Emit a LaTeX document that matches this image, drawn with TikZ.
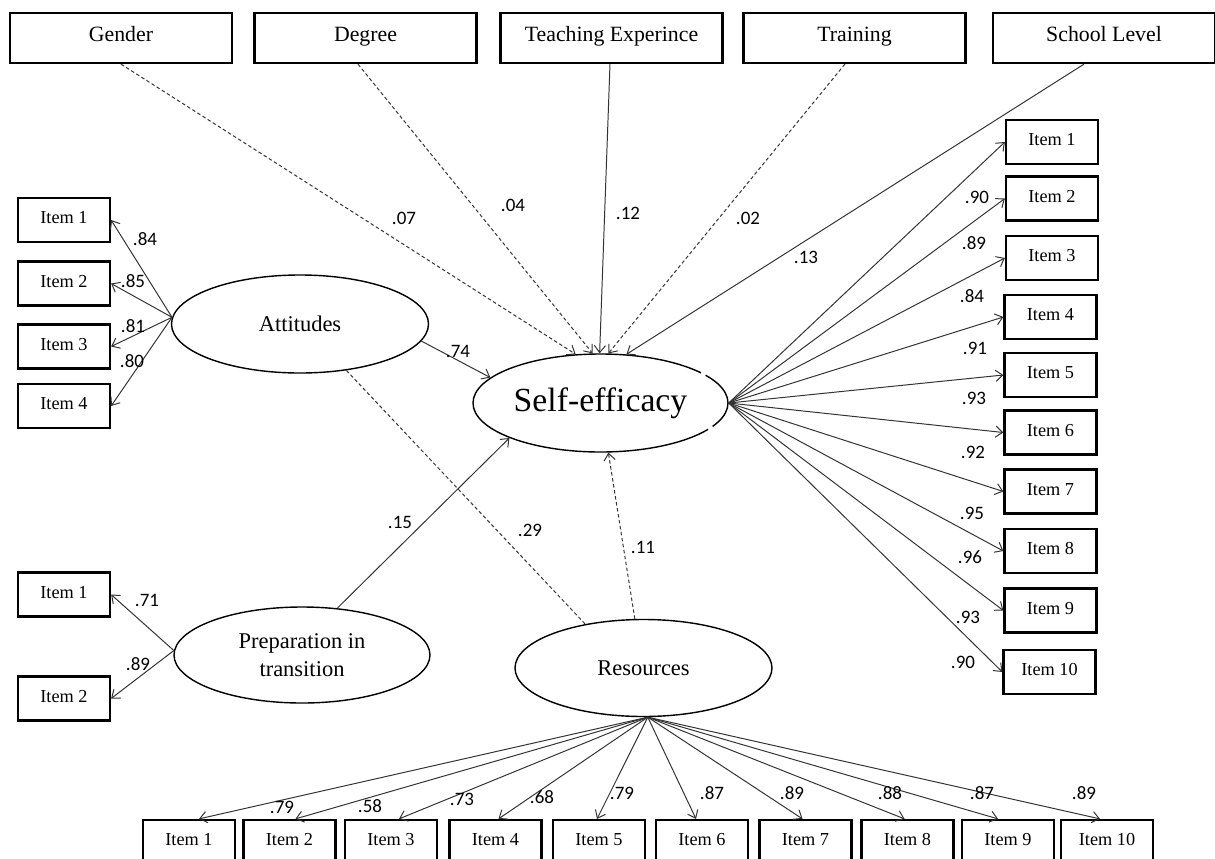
\documentclass[tikz,border=0pt]{standalone}
\usepackage{fontspec}
\setmainfont{Liberation Serif}
\newfontfamily\numfont{Carlito}
\usetikzlibrary{shapes.geometric,arrows.meta}
\begin{document}
\begin{tikzpicture}[x=0.25mm,y=-0.25mm,
 box/.style={draw=black,line width=1.6pt,rectangle,inner sep=0pt,font=\fontsize{13}{15}\selectfont},
 topbox/.style={box,minimum width=55.5mm,minimum height=12.5mm,text height=0.7em,text depth=0.25em,font=\fontsize{15.5}{18}\selectfont},
 itembox/.style={box,minimum width=23mm,minimum height=11mm,text height=0.72em,text depth=0.2em},
 latent/.style={draw=black,line width=1pt,ellipse,inner sep=0pt,align=center,font=\fontsize{16}{20}\selectfont},
 conn/.style={draw=black!80,line width=0.7pt},
 arr/.style={conn,-{Straight Barb[length=5pt,width=8pt]}},
 dsh/.style={dash pattern=on 2.5pt off 1.8pt},
 coef/.style={font=\numfont\fontsize{13.5}{15}\selectfont,inner sep=0pt}
]
\useasboundingbox[fill=white] (0,0) rectangle (1215,859);

% top boxes
\node[topbox] (gender) at (121,38) {Gender};
\node[topbox] (degree) at (365.5,38) {Degree};
\node[topbox] (teach) at (611.5,38) {Teaching Experince};
\node[topbox] (train) at (854.5,38) {Training};
\node[topbox] (school) at (1104,38) {School Level};

% latent variables
\node[latent,minimum width=63.75mm,minimum height=24.5mm,font=\fontsize{24}{28}\selectfont] (se) at (600.5,403) {Self-efficacy};
\node[latent,minimum width=64.25mm,minimum height=24.5mm] (att) at (300,324) {Attitudes};
\node[latent,minimum width=64mm,minimum height=24mm] (prep) at (302,655) {Preparation in\\transition};
\node[latent,minimum width=64.25mm,minimum height=24.25mm] (res) at (643.5,668) {Resources};
% small breaks in the self-efficacy outline
\fill[white] (se.16) circle (0.7mm);
\fill[white] (se.-13) circle (0.7mm);

% left items (attitudes)
\node[itembox] (l1) at (64,220) {Item 1};
\node[itembox] (l2) at (64,283.5) {Item 2};
\node[itembox] (l3) at (64,346.5) {Item 3};
\node[itembox] (l4) at (64,406) {Item 4};
% preparation items
\node[itembox] (p1) at (64,594.5) {Item 1};
\node[itembox] (p2) at (64,698.5) {Item 2};

% right items
\node[itembox] (r1) at (1052,142) {Item 1};
\node[itembox] (r2) at (1052,198.5) {Item 2};
\node[itembox] (r3) at (1052,258) {Item 3};
\node[itembox] (r4) at (1050.5,317) {Item 4};
\node[itembox] (r5) at (1050.5,375) {Item 5};
\node[itembox] (r6) at (1050.5,432.5) {Item 6};
\node[itembox] (r7) at (1050.5,491.5) {Item 7};
\node[itembox] (r8) at (1050.5,551) {Item 8};
\node[itembox] (r9) at (1050.5,610.5) {Item 9};
\node[itembox] (r10) at (1049.5,672) {Item 10};

% bottom items
\node[itembox] (b1) at (189,842) {Item 1};
\node[itembox] (b2) at (289.5,842) {Item 2};
\node[itembox] (b3) at (391,842) {Item 3};
\node[itembox] (b4) at (495.5,842) {Item 4};
\node[itembox] (b5) at (599,842) {Item 5};
\node[itembox] (b6) at (702,842) {Item 6};
\node[itembox] (b7) at (805.5,842) {Item 7};
\node[itembox] (b8) at (907.5,842) {Item 8};
\node[itembox] (b9) at (1008,842) {Item 9};
\node[itembox] (b10) at (1107,842) {Item 10};

% covariates to self-efficacy
\draw[arr,dsh] (gender.south) -- (se.117);
\draw[arr,dsh] ([xshift=-1.875mm]degree.south) -- (se.99);
\draw[arr] ([xshift=-0.375mm]teach.south) -- (se.91);
\draw[arr,dsh] ([xshift=-2.4mm]train.south) -- (se.81);
\draw[arr] ([xshift=-5mm]school.south) -- (se.62);

% structural paths
\draw[arr] (att.-8) -- (se.167);
\draw[arr] (prep.53) -- (se.201);
\draw[conn,dsh] (att.-45) -- (res.143);
\draw[arr,dsh] (res.100) -- (se.-81);

% attitudes items
\foreach \i in {l1,l2,l3,l4} \draw[arr] (att.177) -- (\i.east);
% preparation items
\foreach \i in {p1,p2} \draw[arr] (prep.178) -- (\i.east);
% self-efficacy items
\foreach \i in {r1,r2,r3,r4,r5,r6,r7,r8,r9,r10} \draw[arr] (se.east) -- (\i.west);
% resources items
\draw[arr] (res.-85) -- ([xshift=2.5mm]b1.north);
\draw[arr] (res.-85) -- ([xshift=1.5mm]b2.north);
\draw[arr] (res.-85) -- ([xshift=2mm]b3.north);
\draw[arr] (res.-85) -- ([xshift=0.75mm]b4.north);
\draw[arr] (res.-85) -- ([xshift=-0.5mm]b5.north);
\draw[arr] (res.-85) -- ([xshift=-1.5mm]b6.north);
\draw[arr] (res.-85) -- ([xshift=-0.75mm]b7.north);
\draw[arr] (res.-85) -- ([xshift=-0.75mm]b8.north);
\draw[arr] (res.-85) -- ([xshift=-2.5mm]b9.north);
\draw[arr] (res.-85) -- ([xshift=-1.75mm]b10.north);

% coefficients
\node[coef] (k07) at (404,218) {.07};
\node[coef] (k04) at (513,205) {.04};
\node[coef] (k12) at (628,213) {.12};
\node[coef] (k02) at (748,218) {.02};
\node[coef] (k13) at (806,257) {.13};
\node[coef] (k74) at (458,351) {.74};
\node[coef] (k15) at (400,522) {.15};
\node[coef] (k29) at (530,530) {.29};
\node[coef] (k11) at (643,547) {.11};

\node[coef] (a1) at (145,239) {.84};
\node[coef] (a2) at (133,281) {.85};
\node[coef] (a3) at (133,326) {.81};
\node[coef] (a4) at (132,361) {.80};
\node[coef] (q1) at (147,600) {.71};
\node[coef] (q2) at (138,664) {.89};

\node[coef] (s1) at (977,197) {.90};
\node[coef] (s2) at (974,243) {.89};
\node[coef] (s3) at (972,296) {.84};
\node[coef] (s4) at (975,348) {.91};
\node[coef] (s5) at (974,398) {.93};
\node[coef] (s6) at (973,452) {.92};
\node[coef] (s7) at (972,513) {.95};
\node[coef] (s8) at (970,557) {.96};
\node[coef] (s9) at (968,617) {.93};
\node[coef] (s10) at (963,662) {.90};

\node[coef] (t2) at (282,807) {.79};
\node[coef] (t3) at (370,806) {.58};
\node[coef] (t4) at (462,799) {.73};
\node[coef] (t5) at (542,797) {.68};
\node[coef] (t6) at (622,793) {.79};
\node[coef] (t7) at (712,793) {.87};
\node[coef] (t8) at (792,793) {.89};
\node[coef] (t9) at (890,793) {.88};
\node[coef] (t10) at (982,793) {.87};
\node[coef] (t11) at (1084,793) {.89};
\end{tikzpicture}
\end{document}
